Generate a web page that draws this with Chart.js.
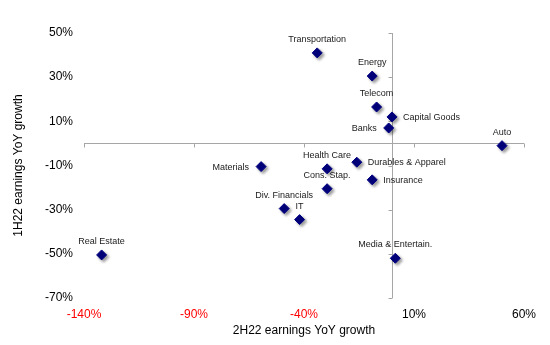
<!DOCTYPE html>
<html>
<head>
<meta charset="utf-8">
<script src="https://cdn.jsdelivr.net/npm/chart.js@4"></script>
<style>
  html, body { margin: 0; padding: 0; background: #fff; }
  #wrap { width: 550px; height: 345px; }
</style>
</head>
<body>
<div id="wrap"><canvas id="myChart" width="550" height="345"></canvas></div>
<script>
// sectors, 2H22 vs 1H22 earnings YoY growth (%)
var sectors = ['Transportation', 'Energy', 'Telecom', 'Capital Goods', 'Banks', 'Auto',
    'Health Care', 'Durables & Apparel', 'Materials', 'Cons. Stap.', 'Insurance',
    'Div. Financials', 'IT', 'Media & Entertain.', 'Real Estate'];
var growth2H22 = [-34, -9, -7, 0, -1.5, 50, -29.5, -16, -59.5, -29.5, -9, -49, -42, 1.5, -132];
var growth1H22 = [41, 30.5, 16.5, 12, 7, -1, -11.5, -8.5, -10.5, -20.5, -16.5, -29.5, -34.5, -52, -50.5];
var xTicks = [-140, -90, -40, 10, 60];
var yTicks = [-70, -50, -30, -10, 10, 30, 50];

// where each label sits next to its marker
var labelSide = {
    'Capital Goods': 'right', 'Durables & Apparel': 'right', 'Insurance': 'right',
    'Banks': 'left', 'Materials': 'left'
};

var points = sectors.map(function (s, i) {
    return { x: growth2H22[i], y: growth1H22[i], name: s };
});

var crossAxes = {
    id: 'crossAxes',
    beforeDatasetsDraw: function (chart) {
        var c = chart.ctx, xs = chart.scales.x, ys = chart.scales.y;
        var x0 = Math.round(xs.getPixelForValue(0)) + 0.5;
        var y0 = Math.round(ys.getPixelForValue(0)) + 0.5;
        c.save();
        c.strokeStyle = '#a6a6a6';
        c.lineWidth = 1;
        c.beginPath();
        c.moveTo(xs.getPixelForValue(xTicks[0]), y0);
        c.lineTo(xs.getPixelForValue(xTicks[xTicks.length - 1]), y0);
        xTicks.forEach(function (v) {
            var px = Math.round(xs.getPixelForValue(v)) + 0.5;
            c.moveTo(px, y0);
            c.lineTo(px, y0 + 4);
        });
        c.moveTo(x0, ys.getPixelForValue(yTicks[0]));
        c.lineTo(x0, ys.getPixelForValue(yTicks[yTicks.length - 1]));
        yTicks.forEach(function (v) {
            var py = Math.round(ys.getPixelForValue(v)) + 0.5;
            c.moveTo(x0, py);
            c.lineTo(x0 - 4, py);
        });
        c.stroke();
        c.restore();
        // drop shadow for the markers
        c.save();
        c.shadowColor = 'rgba(0,0,0,0.4)';
        c.shadowBlur = 3;
        c.shadowOffsetX = 2;
        c.shadowOffsetY = 2;
    },
    afterDatasetsDraw: function (chart) {
        var c = chart.ctx;
        c.restore();
        var meta = chart.getDatasetMeta(0);
        c.save();
        c.font = '9px "Liberation Sans", Arial, sans-serif';
        c.fillStyle = '#1a1a1a';
        c.textBaseline = 'middle';
        meta.data.forEach(function (el, i) {
            var name = sectors[i];
            var side = labelSide[name] || 'above';
            if (side === 'right') {
                c.textAlign = 'left';
                c.fillText(name, el.x + 11, el.y + 0.5);
            } else if (side === 'left') {
                c.textAlign = 'right';
                c.fillText(name, el.x - 12, el.y + 0.5);
            } else {
                c.textAlign = 'center';
                c.fillText(name, el.x, el.y - 13.5);
            }
        });
        c.restore();
    }
};

var ctx = document.getElementById('myChart').getContext('2d');
var myChart = new Chart(ctx, {
    type: 'scatter',
    data: {
        datasets: [{
            label: 'Sectors',
            data: points,
            pointStyle: 'rectRot',
            pointRadius: 5,
            pointHoverRadius: 5,
            backgroundColor: '#000080',
            borderColor: '#000080',
            borderWidth: 1
        }]
    },
    options: {
        responsive: false,
        animation: false,
        events: [],
        layout: { padding: { top: 33, right: 26, left: 0, bottom: 0 } },
        plugins: {
            legend: { display: false },
            tooltip: { enabled: false }
        },
        scales: {
            x: {
                type: 'linear',
                min: -140,
                max: 60,
                afterBuildTicks: function (s) { s.ticks = xTicks.map(function (v) { return { value: v }; }); },
                afterFit: function (s) { s.height = 47; },
                grid: { display: false, drawTicks: false },
                border: { display: false },
                ticks: {
                    padding: 9,
                    color: function (c) { return c.tick.value < 0 ? '#ff0000' : '#000'; },
                    font: { family: '"Liberation Sans", Arial, sans-serif', size: 12 },
                    callback: function (v) { return v + '%'; }
                },
                title: {
                    display: true,
                    text: '2H22 earnings YoY growth',
                    color: '#000',
                    padding: { top: 0, bottom: 7 },
                    font: { family: '"Liberation Sans", Arial, sans-serif', size: 12 }
                }
            },
            y: {
                type: 'linear',
                min: -70,
                max: 50,
                afterBuildTicks: function (s) { s.ticks = yTicks.map(function (v) { return { value: v }; }); },
                afterFit: function (s) { s.width = 84; },
                grid: { display: false, drawTicks: false },
                border: { display: false },
                ticks: {
                    padding: 11,
                    color: '#000',
                    font: { family: '"Liberation Sans", Arial, sans-serif', size: 12 },
                    callback: function (v) { return v + '%'; }
                },
                title: {
                    display: true,
                    text: '1H22 earnings YoY growth',
                    color: '#000',
                    padding: { top: 11, bottom: 0 },
                    font: { family: '"Liberation Sans", Arial, sans-serif', size: 12 }
                }
            }
        }
    },
    plugins: [crossAxes]
});
</script>
</body>
</html>
